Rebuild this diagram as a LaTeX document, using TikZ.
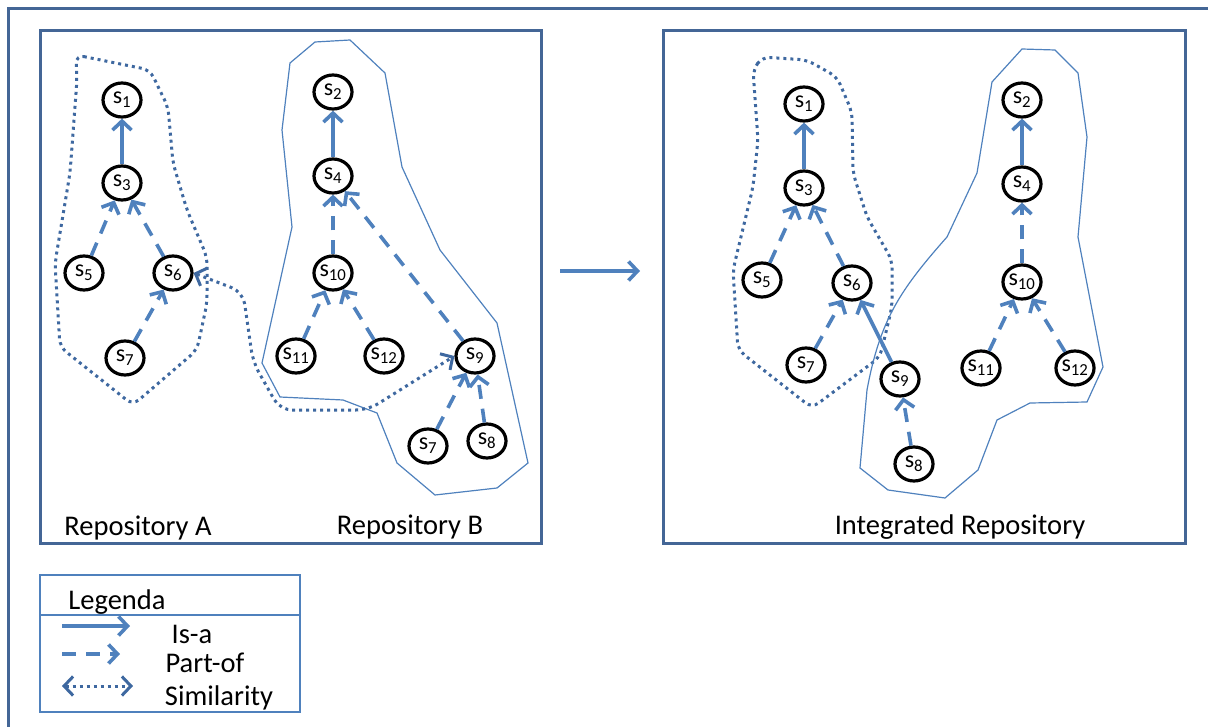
\documentclass[tikz,border=0pt]{standalone}
\usepackage{fontspec}
\setmainfont{Carlito}
\usetikzlibrary{arrows.meta,shapes.geometric}
\definecolor{frameblue}{RGB}{68,102,150}
\definecolor{linkblue}{RGB}{79,129,189}
\definecolor{dotblue}{RGB}{62,104,160}
\begin{document}
\begin{tikzpicture}[x=1pt, y=-1pt,
        concept/.style = {ellipse, draw = black, line width = 3.2pt, minimum width = 38pt,
            minimum height = 34pt, inner sep = 0pt, font = \fontsize{24}{24}\selectfont},
        isa/.style = {draw = linkblue, line width = 3.6pt,
            -{Straight Barb[length = 9pt, width = 19pt]}},
        partof/.style = {isa, dash pattern = on 14pt off 10pt},
        similar/.style = {draw = dotblue, line width = 3pt, dash pattern = on 3pt off 4pt,
            {Straight Barb[length = 9pt, width = 19pt]}-{Straight Barb[length = 9pt, width = 19pt]}},
        region/.style = {draw = linkblue, line width = 1.2pt},
        dotregion/.style = {draw = dotblue, line width = 3pt, dash pattern = on 3pt off 4pt},
        boxline/.style = {draw = frameblue, line width = 3pt},
        caption/.style = {font = \fontsize{28.5}{30}\selectfont, inner sep = 0pt}]
    \useasboundingbox (0, 0) rectangle (1208, 727);
    \draw [boxline] (8, 727) -- (8, 9) -- (1208, 9);
    \draw [boxline]
        (40, 31) rectangle (541, 543)
        (663, 31) rectangle (1185, 543);

    % Repository A and B
    \foreach \n/\x/\y in {1/122/100, 3/122/183, 5/84/273, 6/173/273, 7/125/358}
        \node [concept] (a\n) at (\x, \y) {s\textsubscript{\n}};
    \foreach \n/\x/\y in {2/333/92, 4/333/176, 10/333/273, 11/296/356, 12/384/356,
            9/475/356, 7/428/446, 8/487/441}
        \node [concept] (b\n) at (\x, \y) {s\textsubscript{\n}};
    \draw [dotregion, rounded corners = 8pt]
        (76, 55) -- (150, 70) -- (168, 107) -- (173, 163) -- (187, 210) -- (207, 257)
        -- (207, 303) -- (197, 350) -- (133, 405) -- (60, 347) -- (55, 263)
        -- (70, 173) -- (77, 80) -- cycle;
    \draw [region]
        (290, 63) -- (315, 42) -- (350, 40) -- (385, 73) -- (402, 167) -- (440, 250)
        -- (497, 323) -- (528, 463) -- (497, 488) -- (435, 495) -- (397, 463)
        -- (377, 413) -- (343, 400) -- (280, 397) -- (262, 363) -- (292, 227)
        -- (282, 130) -- cycle;
    \draw [isa] (a3) -- (a1);
    \draw [partof] (a5) -- (a3);
    \draw [partof] (a6) -- (a3);
    \draw [partof] (a7) -- (a6);
    \draw [isa] (b4) -- (b2);
    \draw [partof] (b10) -- (b4);
    \draw [partof] (b9) -- (b4);
    \draw [partof] (b11) -- (b10);
    \draw [partof] (b12) -- (b10);
    \draw [partof] (b7) -- (b9);
    \draw [partof] (b8) -- (b9);
    \draw [similar, rounded corners = 12pt]
        (a6.east) -- (243, 292) -- (253, 362) -- (280, 410) -- (368, 410) -- (b9.west);
    \node [caption] (repa) at (138, 528) {Repository A};
    \node [caption] (repb) at (410, 527) {Repository B};

    \coordinate (mfrom) at (560, 271);
    \coordinate (mto) at (640, 271);
    \draw [isa] (mfrom) -- (mto);

    % Integrated Repository
    \foreach \n/\x/\y in {1/804/104, 3/804/188, 5/762/280, 6/852/283, 7/806/365,
            9/900/379, 8/914/464, 2/1022/100, 4/1022/184, 10/1022/282, 11/981/368,
            12/1075/368}
        \node [concept] (i\n) at (\x, \y) {s\textsubscript{\n}};
    \draw [dotregion, rounded corners = 8pt]
        (753, 70) -- (762, 57) -- (807, 60) -- (837, 77) -- (852, 112) -- (853, 173)
        -- (867, 217) -- (892, 260) -- (892, 307) -- (880, 357) -- (812, 408)
        -- (738, 350) -- (733, 270) -- (753, 187) -- (758, 140) -- cycle;
    \draw [region]
        (992, 82) -- (1022, 49) -- (1055, 50) -- (1078, 73) -- (1087, 137)
        -- (1078, 237) -- (1103, 367) -- (1087, 402) -- (1030, 403) -- (997, 420)
        -- (978, 470) -- (945, 498) -- (888, 490) -- (860, 468) -- (867, 390)
        .. controls (880, 320) and (900, 290) .. (947, 237)
        -- (977, 173) -- cycle;
    \draw [isa] (i3) -- (i1);
    \draw [partof] (i5) -- (i3);
    \draw [partof] (i6) -- (i3);
    \draw [partof] (i7) -- (i6);
    \draw [isa] (i9) -- (i6);
    \draw [partof] (i8) -- (i9);
    \draw [isa] (i4) -- (i2);
    \draw [partof] (i10) -- (i4);
    \draw [partof] (i11) -- (i10);
    \draw [partof] (i12) -- (i10);
    \node [caption] (repi) at (960, 527) {Integrated Repository};

    % Legenda
    \draw [draw = linkblue, line width = 1.5pt]
        (40, 575) rectangle (300, 712)
        (40, 615) -- (300, 615);
    \node [caption] (legenda) at (117, 602) {Legenda};
    \coordinate (lisa1) at (62, 626);
    \coordinate (lisa2) at (130, 626);
    \coordinate (lpart1) at (62, 654);
    \coordinate (lpart2) at (120, 654);
    \coordinate (lsim1) at (62, 686);
    \coordinate (lsim2) at (133, 686);
    \draw [isa] (lisa1) -- (lisa2);
    \draw [partof] (lpart1) -- (lpart2);
    \draw [similar] (lsim1) -- (lsim2);
    \node [caption] (isalabel) at (192, 634) {Is-a};
    \node [caption] (partlabel) at (205, 663) {Part-of};
    \node [caption] (simlabel) at (219, 698) {Similarity};
\end{tikzpicture}
\end{document}
